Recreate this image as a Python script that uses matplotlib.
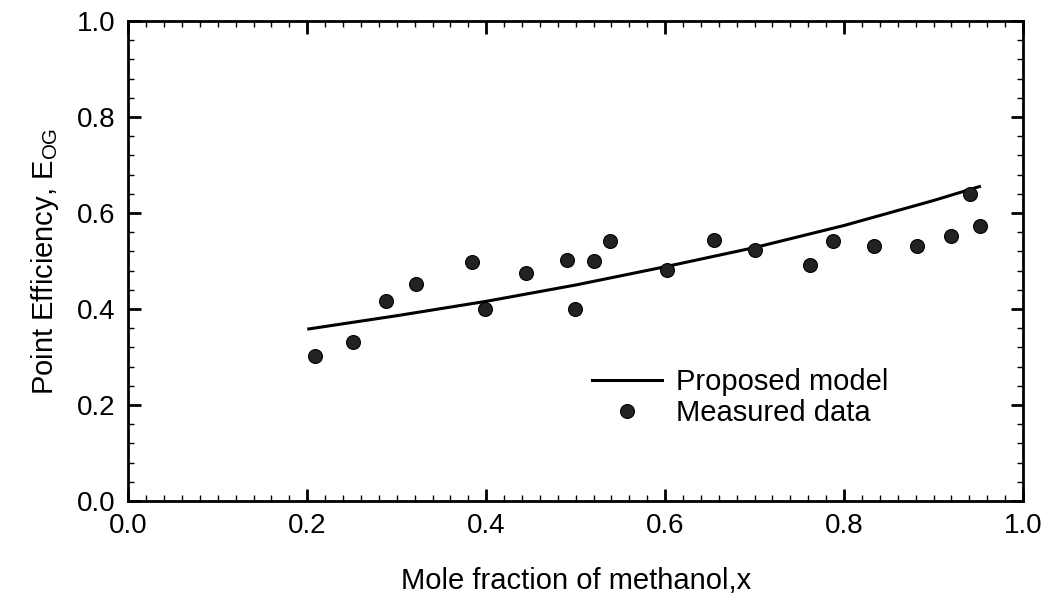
import matplotlib
matplotlib.use("Agg")
import matplotlib.pyplot as plt
from matplotlib.ticker import MultipleLocator, FormatStrFormatter
from matplotlib.lines import Line2D

plt.rcParams['font.family'] = ['Liberation Sans', 'DejaVu Sans']
plt.rcParams['mathtext.fontset'] = 'custom'
plt.rcParams['mathtext.rm'] = 'Liberation Sans'
plt.rcParams['mathtext.it'] = 'Liberation Sans'

# Measured point efficiencies
x_measured = [0.209, 0.251, 0.288, 0.321, 0.384, 0.399, 0.444, 0.490, 0.499, 0.520,
              0.538, 0.602, 0.655, 0.700, 0.762, 0.788, 0.833, 0.881, 0.920, 0.941, 0.952]
e_measured = [0.303, 0.331, 0.416, 0.452, 0.498, 0.400, 0.476, 0.502, 0.401, 0.500,
              0.541, 0.481, 0.543, 0.523, 0.492, 0.542, 0.531, 0.532, 0.553, 0.640, 0.573]

# Proposed model curve
x_model = [0.200, 0.300, 0.400, 0.500, 0.600, 0.700, 0.800, 0.900, 0.953]
e_model = [0.358, 0.386, 0.416, 0.450, 0.488, 0.528, 0.574, 0.626, 0.656]

fig = plt.figure(figsize=(10.52, 6.06), dpi=100)
ax = fig.add_axes([0.122, 0.1733, 0.8504, 0.792])

ax.plot(x_model, e_model, color='black', lw=2.2, solid_capstyle='butt')
ax.plot(x_measured, e_measured, linestyle='none', marker='o', ms=10,
        color='#222222', markeredgecolor='black', markeredgewidth=0.8)

ax.set_xlim(0.0, 1.0)
ax.set_ylim(0.0, 1.0)
ax.xaxis.set_major_locator(MultipleLocator(0.2))
ax.xaxis.set_minor_locator(MultipleLocator(0.02))
ax.yaxis.set_major_locator(MultipleLocator(0.2))
ax.yaxis.set_minor_locator(MultipleLocator(0.04))
ax.xaxis.set_major_formatter(FormatStrFormatter('%.1f'))
ax.yaxis.set_major_formatter(FormatStrFormatter('%.1f'))

ax.tick_params(which='both', direction='in', top=True, right=True, colors='black')
ax.tick_params(which='major', length=9, width=2.0, labelsize=20, pad=9)
ax.tick_params(which='minor', length=4.5, width=1.0)
for s in ax.spines.values():
    s.set_linewidth(2.0)

ax.set_xlabel('Mole fraction of methanol,x', fontsize=21, labelpad=20)
ax.set_ylabel('Point Efficiency, E$_{\\mathrm{OG}}$', fontsize=21, labelpad=12)

handles = [Line2D([], [], color='black', lw=2.2),
           Line2D([], [], linestyle='none', marker='o', ms=10, color='#222222',
                  markeredgecolor='black', markeredgewidth=0.8)]
ax.legend(handles, ['Proposed model', 'Measured data'], loc='upper left',
          bbox_to_anchor=(0.495, 0.32), frameon=False, fontsize=21,
          handlelength=2.4, handletextpad=0.5, labelspacing=0.1, borderpad=0.2)

fig.savefig('out.png', dpi=100)
